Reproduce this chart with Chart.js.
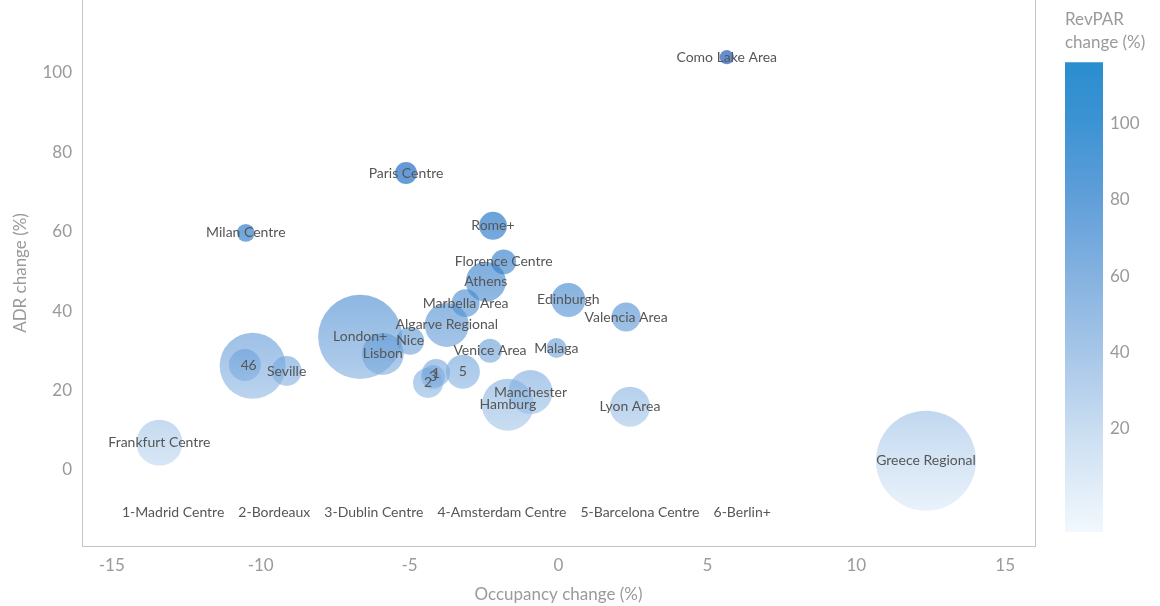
<!DOCTYPE html>
<html>
<head>
<meta charset="utf-8">
<script src="https://cdn.jsdelivr.net/npm/chart.js@4/dist/chart.umd.min.js"></script>
<style>
  html, body { margin: 0; padding: 0; background: #ffffff; }
  #wrap { position: relative; width: 1160px; height: 606px; }
  #main { position: absolute; left: 0; top: 0; }
  #scale { position: absolute; left: 1040px; top: 0; }
</style>
</head>
<body>
<div id="wrap">
  <canvas id="main" width="1040" height="606"></canvas>
  <canvas id="scale" width="120" height="606"></canvas>
</div>
<script>
// Markets, year-on-year changes (%)
const markets = ['Como Lake Area', 'Paris Centre', 'Milan Centre', 'Rome+', 'Florence Centre', 'Athens',
  'Marbella Area', 'Algarve Regional', 'Edinburgh', 'Valencia Area', 'Malaga', 'Venice Area', 'London+',
  'Lisbon', 'Nice', 'Madrid Centre', 'Bordeaux', 'Dublin Centre', 'Amsterdam Centre', 'Barcelona Centre',
  'Berlin+', 'Seville', 'Frankfurt Centre', 'Greece Regional', 'Manchester', 'Hamburg', 'Lyon Area'];
// Numbered markets are labelled by their key and listed underneath
const marketKeys = ['', '', '', '', '', '', '', '', '', '', '', '', '', '', '', '1', '2', '3', '4', '5',
  '6', '', '', '', '', '', ''];
const occupancyChange = [5.65, -5.12, -10.5, -2.2, -1.84, -2.44, -3.12, -3.75, 0.33, 2.27, -0.07, -2.3, -6.66,
  -5.9, -4.98, -4.11, -4.38, -4.21, -10.53, -3.21, -10.27, -9.13, -13.4, 12.34, -0.94, -1.7, 2.4];
const adrChange = [104, 74.8, 59.7, 61.5, 52.4, 47.4, 42, 36.5, 42.8, 38.5, 30.7, 30, 33.5, 29.2, 32.5, 24.4,
  21.9, 23.4, 26.4, 24.7, 26.2, 24.9, 6.8, 2.3, 19.6, 16.4, 15.9];
// Relative room supply, drawn as bubble area
const roomSupply = [2, 4.8, 3.2, 7.8, 6.2, 16, 7.8, 19.4, 11.6, 8.4, 4, 5.8, 70.6, 17.6, 7.8, 7.8, 9, 5.8,
  10.2, 11.6, 43.6, 9, 21.2, 100, 19.4, 27, 16];

const xTicks = [-15, -10, -5, 0, 5, 10, 15];
const yTicks = [0, 20, 40, 60, 80, 100];
const revparTicks = [20, 40, 60, 80, 100];
const revparRange = [-7, 116];
const revparStops = [-7, 20, 40, 60, 80, 100, 116];
const revparColors = ['#f2f8fd', '#c9ddf1', '#a6c6e8', '#85b2e0', '#619fd9', '#3d93d3', '#2a8ecf'];

const FONT = 'Lato';
const AXIS_GREY = '#9a9a9a';
const LINE_GREY = '#c4c4c4';
const LABEL_GREY = '#565656';
const BUBBLE_ALPHA = 0.6;

function hexToRgb(h) {
  const n = parseInt(h.slice(1), 16);
  return [(n >> 16) & 255, (n >> 8) & 255, n & 255];
}
// Translucent colour that shows the given opaque colour when laid on white
function translucent(hex) {
  const c = hexToRgb(hex).map(v => {
    const b = (v - (1 - BUBBLE_ALPHA) * 255) / BUBBLE_ALPHA;
    return Math.round(Math.max(0, Math.min(255, b)));
  });
  return `rgba(${c[0]},${c[1]},${c[2]},${BUBBLE_ALPHA})`;
}
function rampGradient(ctx, top, bottom, colorFn) {
  const g = ctx.createLinearGradient(0, bottom, 0, top);
  const span = revparRange[1] - revparRange[0];
  revparStops.forEach((v, i) => g.addColorStop((v - revparRange[0]) / span, colorFn(revparColors[i])));
  return g;
}

// Colour scale (RevPAR change)
const scaleChart = new Chart(document.getElementById('scale'), {
  type: 'bar',
  data: {
    labels: ['RevPAR'],
    datasets: [{
      data: [revparRange.slice()],
      backgroundColor: (c) => {
        if (!c.chart.chartArea) return revparColors[3];
        const y = c.chart.scales.y;
        return rampGradient(c.chart.ctx, y.getPixelForValue(revparRange[1]), y.getPixelForValue(revparRange[0]), s => s);
      },
      borderWidth: 0,
      barPercentage: 1,
      categoryPercentage: 1
    }]
  },
  options: {
    responsive: false,
    animation: false,
    events: [],
    layout: { padding: { left: 25, top: 0, right: 0, bottom: 74 } },
    plugins: {
      legend: { display: false },
      tooltip: { enabled: false },
      title: {
        display: true,
        text: ['RevPAR', 'change (%)'],
        align: 'start',
        color: AXIS_GREY,
        font: { family: FONT, size: 17, weight: 'normal', lineHeight: 1.36 },
        padding: { top: 8, bottom: 8 }
      }
    },
    scales: {
      x: { display: false },
      y: {
        position: 'right',
        min: revparRange[0],
        max: revparRange[1],
        afterBuildTicks: s => { s.ticks = revparTicks.map(v => ({ value: v })); },
        afterFit: s => { s.width = 57; s.paddingTop = 0; s.paddingBottom = 0; },
        grid: { display: false, drawTicks: false },
        border: { display: false },
        ticks: { padding: 7, color: AXIS_GREY, font: { family: FONT, size: 17 } }
      }
    }
  }
});

// Market names on the bubbles and the key for numbered markets
const bubbleLabels = {
  id: 'bubbleLabels',
  afterDatasetsDraw(chart) {
    const ctx = chart.ctx;
    const meta = chart.getDatasetMeta(0);
    ctx.save();
    ctx.font = `14px ${FONT}`;
    ctx.fillStyle = LABEL_GREY;
    ctx.textAlign = 'center';
    ctx.textBaseline = 'middle';
    meta.data.forEach((el, i) => ctx.fillText(marketKeys[i] || markets[i], el.x, el.y));

    const keyed = markets.map((m, i) => marketKeys[i] ? marketKeys[i] + '-' + m : null).filter(Boolean)
      .sort((a, b) => parseInt(a) - parseInt(b));
    ctx.textAlign = 'left';
    let x = chart.chartArea.left + 40;
    const y = chart.chartArea.bottom - 34;
    keyed.forEach(t => { ctx.fillText(t, x, y); x += ctx.measureText(t).width + 14; });
    ctx.restore();
  }
};

const points = occupancyChange.map((x, i) => ({ x, y: adrChange[i], r: 5 * Math.sqrt(roomSupply[i]) }));
const yMin = -19.2, yMax = 118.4;

new Chart(document.getElementById('main'), {
  type: 'bubble',
  data: {
    datasets: [{
      data: points,
      backgroundColor: () => {
        const y = scaleChart.scales.y;
        const ctx = document.getElementById('main').getContext('2d');
        return rampGradient(ctx, y.getPixelForValue(revparRange[1]), y.getPixelForValue(revparRange[0]), translucent);
      },
      borderWidth: 0,
      hoverBorderWidth: 0
    }]
  },
  options: {
    responsive: false,
    animation: false,
    events: [],
    layout: { autoPadding: false, padding: { top: 0, right: 5, bottom: 0, left: 0 } },
    plugins: { legend: { display: false }, tooltip: { enabled: false } },
    scales: {
      x: {
        type: 'linear',
        position: 'bottom',
        min: -16,
        max: 16,
        afterBuildTicks: s => { s.ticks = xTicks.map(v => ({ value: v })); },
        afterFit: s => { s.height = 60; s.paddingLeft = 0; s.paddingRight = 0; },
        grid: { display: false, drawTicks: false },
        border: { display: true, color: LINE_GREY },
        ticks: { padding: 9, color: AXIS_GREY, font: { family: FONT, size: 17 } },
        title: {
          display: true, text: 'Occupancy change (%)', color: AXIS_GREY,
          font: { family: FONT, size: 17 }, padding: { top: 0, bottom: 1 }
        }
      },
      y: {
        type: 'linear',
        position: 'left',
        min: yMin,
        max: yMax,
        afterBuildTicks: s => { s.ticks = yTicks.map(v => ({ value: v })); },
        afterFit: s => { s.width = 82; s.paddingTop = 0; s.paddingBottom = 0; },
        grid: { display: false, drawTicks: false },
        border: { display: true, color: LINE_GREY },
        ticks: { padding: 10, color: AXIS_GREY, font: { family: FONT, size: 17 } },
        title: {
          display: true, text: 'ADR change (%)', color: AXIS_GREY,
          font: { family: FONT, size: 17 }, padding: { top: 10, bottom: 0 }
        }
      },
      y2: {
        type: 'linear',
        position: 'right',
        min: yMin,
        max: yMax,
        afterFit: s => { s.width = 0; s.paddingTop = 0; s.paddingBottom = 0; },
        ticks: { display: false },
        grid: { display: false, drawTicks: false },
        border: { display: true, color: LINE_GREY }
      }
    }
  },
  plugins: [bubbleLabels]
});
</script>
</body>
</html>
